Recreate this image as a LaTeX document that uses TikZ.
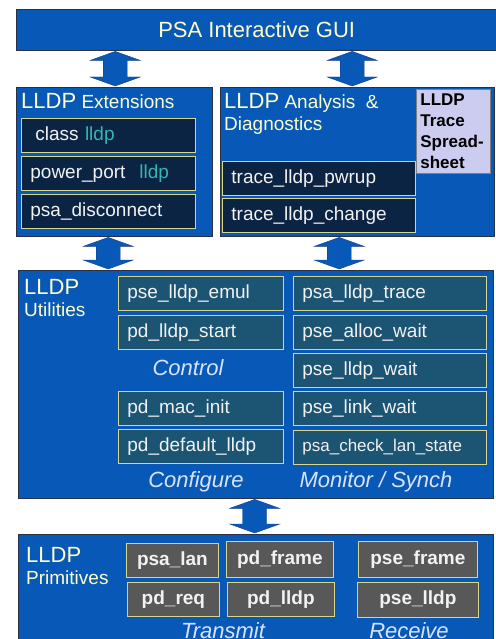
\documentclass[tikz,border=0pt]{standalone}
\usepackage{fontspec}
\setmainfont{Liberation Sans}
\usetikzlibrary{calc, positioning}
\definecolor{LayerBlue}{RGB}{8,88,184}
\definecolor{EdgeDark}{RGB}{40,48,70}
\definecolor{HeadText}{RGB}{255,255,200}
\definecolor{NavyFill}{RGB}{12,36,68}
\definecolor{TealFill}{RGB}{28,84,116}
\definecolor{GrayFill}{RGB}{88,88,88}
\definecolor{FuncEdge}{RGB}{214,214,140}
\definecolor{FuncText}{RGB}{242,242,242}
\definecolor{LabelText}{RGB}{215,228,255}
\definecolor{LldpTeal}{RGB}{52,182,180}
\definecolor{SheetFill}{RGB}{204,204,240}
\definecolor{ArrowEdge}{RGB}{20,60,130}
\newcommand{\bigword}[1]{{\fontsize{22}{24}\selectfont #1}}
\newcommand{\teal}[1]{\textcolor{LldpTeal}{#1}}
% block arrow between two points (top, bottom)
\newcommand{\bigarrow}[2]{%
  \filldraw[blockarrow] let \p1=#1, \p2=#2 in
    (\x1,\y1) -- (\x1+25pt,\y1-9pt) -- (\x1+12pt,\y1-9pt) -- (\x1+12pt,\y2+9pt)
    -- (\x1+25pt,\y2+9pt) -- (\x1,\y2) -- (\x1-25pt,\y2+9pt) -- (\x1-12pt,\y2+9pt)
    -- (\x1-12pt,\y1-9pt) -- (\x1-25pt,\y1-9pt) -- cycle;}
\tikzstyle{blockarrow} = [fill=LayerBlue, draw=ArrowEdge, thin]
\tikzstyle{layer} = [draw=EdgeDark, fill=LayerBlue, anchor=north west, inner sep=0pt]
\tikzstyle{heading} = [text=HeadText, anchor=north west, inner sep=0pt, align=left, font=\fontsize{19}{22}\selectfont]
\tikzset{
  extbox/.style={draw=FuncEdge, fill=NavyFill, thick, anchor=north west, minimum height=34pt,
    inner xsep=9pt, inner ysep=0pt, align=left, text=FuncText},
  utilbox/.style={extbox, fill=TealFill},
  primbox/.style={extbox, fill=GrayFill, align=center, inner xsep=2pt, font=\bfseries\fontsize{19}{21}\selectfont},
  sheet/.style={draw=gray, fill=SheetFill, thick, anchor=north west, minimum height=84pt,
    text width=66pt, inner xsep=4pt, align=left, font=\bfseries\fontsize{17}{21}\selectfont},
  grouplabel/.style={text=LabelText, font=\itshape\fontsize{22}{24}\selectfont, inner sep=0pt}
}

\begin{document}
\begin{tikzpicture}[x=1pt, y=-1pt, font=\fontsize{19}{21}\selectfont]
  \useasboundingbox (0,0) rectangle (495,639);

  % GUI
  \node[layer, minimum width=481pt, minimum height=41pt, text=HeadText,
        font=\fontsize{22}{24}\selectfont] (gui) at (16,9) {PSA Interactive GUI};

  % Extensions
  \node[layer, minimum width=196pt, minimum height=149pt] (ext) at (16,87) {};
  \node[heading] (exthead) at (21,93) {\bigword{LLDP} Extensions};
  \node[extbox, text width=156pt] (classlldp) at (21,118) {\hspace{5pt}class \teal{lldp}};
  \node[extbox, text width=156pt] (powerport) at (21,156) {power\_port\hspace{14pt}\teal{lldp}};
  \node[extbox, text width=156pt] (disconnect) at (21,194) {psa\_disconnect};

  % Analysis & Diagnostics
  \node[layer, minimum width=274pt, minimum height=149pt] (ana) at (220,87) {};
  \node[heading] (anahead) at (224,93) {\bigword{LLDP} Analysis \ \&\\Diagnostics};
  \node[sheet] (spread) at (416,89) {LLDP\\Trace\\Spread-\\sheet};
  \node[extbox, text width=175pt] (pwrup) at (222,161) {trace\_lldp\_pwrup};
  \node[extbox, text width=175pt] (change) at (222,198) {trace\_lldp\_change};

  % Utilities
  \node[layer, minimum width=475pt, minimum height=228pt] (util) at (18,270) {};
  \node[heading] (utilhead) at (24,279) {\bigword{LLDP}\\Utilities};
  \node[utilbox, text width=147pt] (emul) at (118,276) {pse\_lldp\_emul};
  \node[utilbox, text width=147pt] (start) at (118,315) {pd\_lldp\_start};
  \node[grouplabel] (control) at (188,368) {Control};
  \node[utilbox, text width=147pt] (macinit) at (118,391) {pd\_mac\_init};
  \node[utilbox, text width=147pt] (deflldp) at (118,429) {pd\_default\_lldp};
  \node[grouplabel] (configure) at (196,482) {Configure};
  \node[utilbox, text width=175pt] (trace) at (293,276) {psa\_lldp\_trace};
  \node[utilbox, text width=175pt] (allocwait) at (293,315) {pse\_alloc\_wait};
  \node[utilbox, text width=175pt] (lldpwait) at (293,353) {pse\_lldp\_wait};
  \node[utilbox, text width=175pt] (linkwait) at (293,391) {pse\_link\_wait};
  \node[utilbox, text width=175pt, font=\fontsize{17}{19}\selectfont] (lanstate) at (293,430) {psa\_check\_lan\_state};
  \node[grouplabel] (monitor) at (376,482) {Monitor / Synch};

  % Primitives
  \node[layer, minimum width=475pt, minimum height=110pt] (prim) at (18,534) {};
  \node[heading] (primhead) at (26,547) {\bigword{LLDP}\\Primitives};
  \node[primbox, minimum width=92pt] (psalan) at (126,543) {psa\_lan};
  \node[primbox, minimum width=107pt, minimum height=36pt] (pdframe) at (226,541) {pd\_frame};
  \node[primbox, minimum width=92pt] (pdreq) at (127,582) {pd\_req};
  \node[primbox, minimum width=107pt] (pdlldp) at (227,582) {pd\_lldp};
  \node[primbox, minimum width=119pt, minimum height=36pt] (pseframe) at (358,541) {pse\_frame};
  \node[primbox, minimum width=121pt, minimum height=35pt] (pselldp) at (357,582) {pse\_lldp};
  \node[grouplabel, anchor=base] (transmit) at (223,638) {Transmit};
  \node[grouplabel, anchor=base] (receive) at (409,638) {Receive};

  % Arrows
  \coordinate (a1) at ([xshift=1pt, yshift=-1pt]gui.south -| ext.north);
  \coordinate (a2) at ([xshift=-5pt, yshift=-1pt]gui.south -| ana.north);
  \coordinate (a3) at ([xshift=-6pt, yshift=-1pt]ext.south);
  \coordinate (a4) at ([xshift=-18pt, yshift=-1pt]ana.south);
  \coordinate (a5) at ([xshift=-1pt, yshift=-1pt]util.south);
  \bigarrow{(a1)}{([yshift=1pt]a1 |- ext.north)}
  \bigarrow{(a2)}{([yshift=1pt]a2 |- ana.north)}
  \bigarrow{(a3)}{([yshift=1pt]a3 |- util.north)}
  \bigarrow{(a4)}{([yshift=1pt]a4 |- util.north)}
  \bigarrow{(a5)}{([yshift=1pt]a5 |- prim.north)}
\end{tikzpicture}
\end{document}
